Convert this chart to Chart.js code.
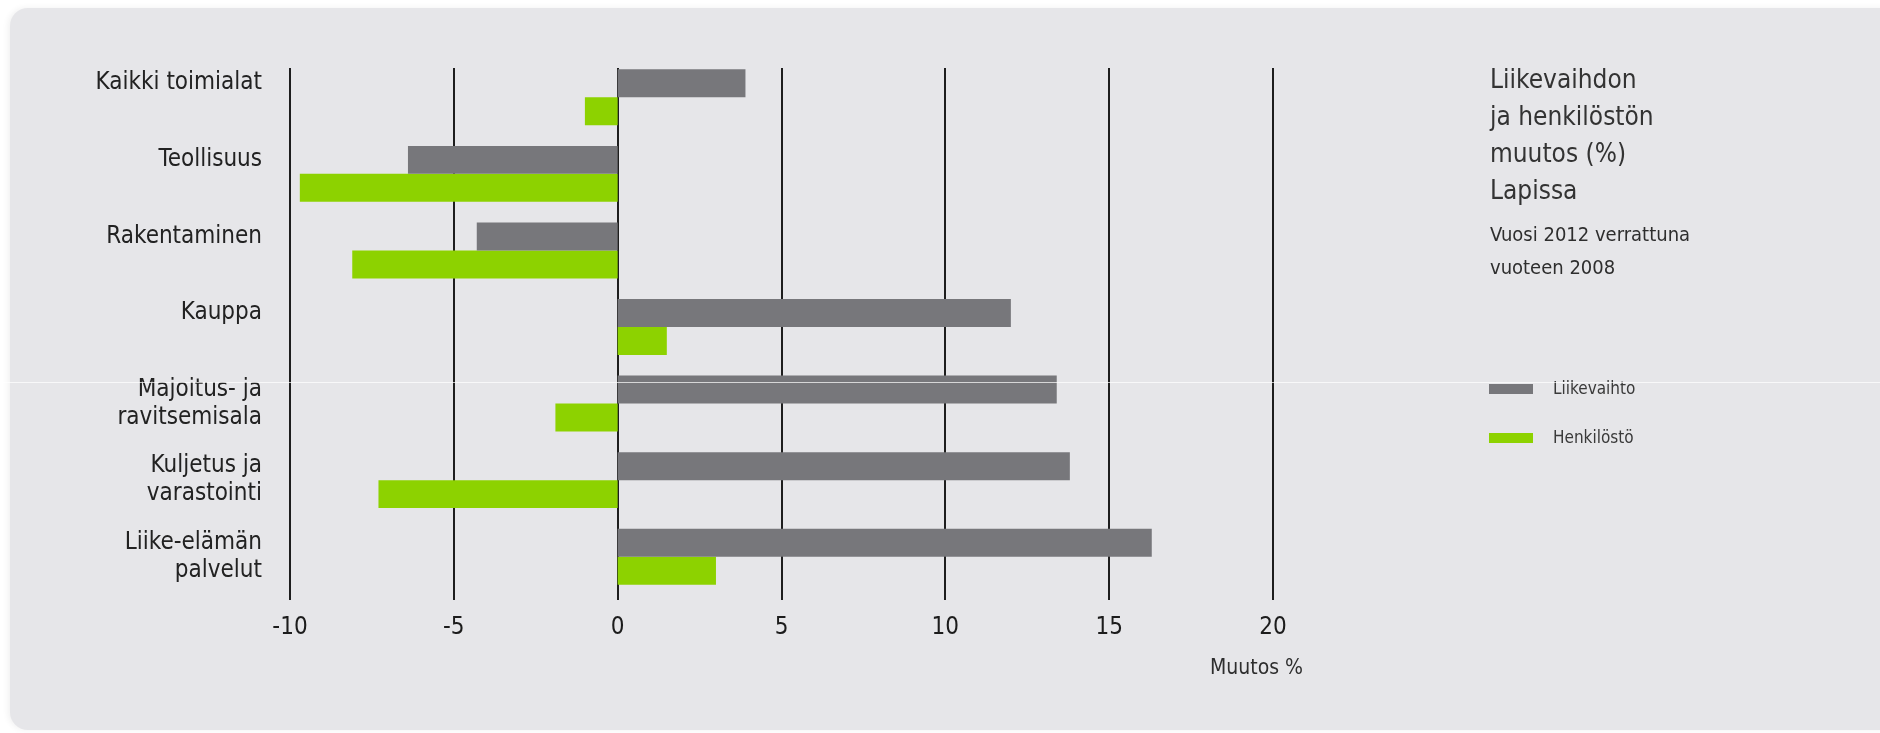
<!DOCTYPE html>
<html>
<head>
<meta charset="utf-8">
<script src="https://cdn.jsdelivr.net/npm/chart.js@4.4.1/dist/chart.umd.min.js"></script>
<style>
    html, body { margin: 0; padding: 0; background: #fff; }
    body { width: 1880px; height: 733px; position: relative; overflow: hidden;
           font-family: 'DejaVu Sans Condensed', 'DejaVu Sans', sans-serif; font-stretch: condensed; }
    .panel { position: absolute; left: 10px; top: 8px; width: 1900px; height: 722px;
             background: #e6e6e9; border-radius: 18px; box-shadow: -2px 0 6px rgba(0,0,0,0.06); }
    .wrap { position: absolute; left: 0; top: 0; width: 1880px; height: 733px; }
    .txt { position: absolute; color: #333; white-space: nowrap; }
    .title { left: 1490px; top: 61px; font-size: 26px; line-height: 37px; color: #333; }
    .sub { left: 1490px; top: 218px; font-size: 20px; line-height: 33px; color: #2e2e2e; }
    .leg { left: 1489px; font-size: 17px; color: #3a3a3a; }
    .leg span { display: inline-block; width: 44px; height: 10px; margin-right: 20px; vertical-align: middle; }
    .scanline { position: absolute; left: 0; top: 382px; width: 1880px; height: 1px; background: rgba(255,255,255,0.7); }
</style>
</head>
<body>
<div class="panel"></div>
<div class="wrap"><canvas id="chart" width="1880" height="733"></canvas></div>
<div class="txt title">Liikevaihdon<br>ja henkilöstön<br>muutos (%)<br>Lapissa</div>
<div class="txt sub">Vuosi 2012 verrattuna<br>vuoteen 2008</div>
<div class="txt leg" style="top: 378px;"><span style="background:#77777b"></span>Liikevaihto</div>
<div class="txt leg" style="top: 427px;"><span style="background:#8dd200"></span>Henkilöstö</div>
<div class="txt" style="left: 1210px; top: 655px; font-size: 21px; color: #2e2e2e;">Muutos %</div>
<div class="scanline"></div>
<script>
// toimialat (single-line labels get an empty 2nd line so they sit a bit higher, like the original)
const categories = [
    ['Kaikki toimialat', ''],
    ['Teollisuus', ''],
    ['Rakentaminen', ''],
    ['Kauppa', ''],
    ['Majoitus- ja', 'ravitsemisala'],
    ['Kuljetus ja', 'varastointi'],
    ['Liike-elämän', 'palvelut']
];
const liikevaihto = [3.9, -6.4, -4.3, 12.0, 13.4, 13.8, 16.3];
const henkilosto = [-1.0, -9.7, -8.1, 1.5, -1.9, -7.3, 3.0];
const xTicks = [-10, -5, 0, 5, 10, 15, 20];

const FONT = "'DejaVu Sans Condensed', 'DejaVu Sans', sans-serif";

// black vertical lines behind the bars
const gridLines = {
    id: 'gridLines',
    beforeDatasetsDraw(chart) {
        const { ctx, chartArea, scales } = chart;
        ctx.save();
        ctx.strokeStyle = '#1e1e1e';
        ctx.lineWidth = 2;
        xTicks.forEach(v => {
            const x = Math.round(scales.x.getPixelForValue(v));
            ctx.beginPath();
            ctx.moveTo(x, chartArea.top + 9);
            ctx.lineTo(x, chartArea.bottom + 5);
            ctx.stroke();
        });
        ctx.restore();
    }
};

const ctx = document.getElementById('chart').getContext('2d');
new Chart(ctx, {
    type: 'bar',
    data: {
        labels: categories,
        datasets: [
            { label: 'Liikevaihto', data: liikevaihto, backgroundColor: '#77777b' },
            { label: 'Henkilöstö', data: henkilosto, backgroundColor: '#8dd200' }
        ]
    },
    options: {
        indexAxis: 'y',
        responsive: false,
        animation: false,
        devicePixelRatio: 1,
        datasets: { bar: { categoryPercentage: 0.73, barPercentage: 1.0, borderWidth: 0 } },
        layout: { padding: { top: 59, right: 607, left: 0, bottom: 0 } },
        plugins: { legend: { display: false }, tooltip: { enabled: false } },
        scales: {
            x: {
                type: 'linear', min: -10, max: 20,
                afterBuildTicks: s => { s.ticks = xTicks.map(v => ({ value: v })); },
                afterFit: s => { s.height = 138; },
                grid: { display: false, drawTicks: false },
                border: { display: false },
                ticks: { padding: 18, color: '#1c1c1c', font: { family: FONT, size: 24 } }
            },
            y: {
                afterFit: s => { s.width = 290; },
                grid: { display: false, drawTicks: false },
                border: { display: false },
                ticks: { padding: 28, color: '#222', font: { family: FONT, size: 24, lineHeight: 1.17 } }
            }
        }
    },
    plugins: [gridLines]
});
</script>
</body>
</html>
